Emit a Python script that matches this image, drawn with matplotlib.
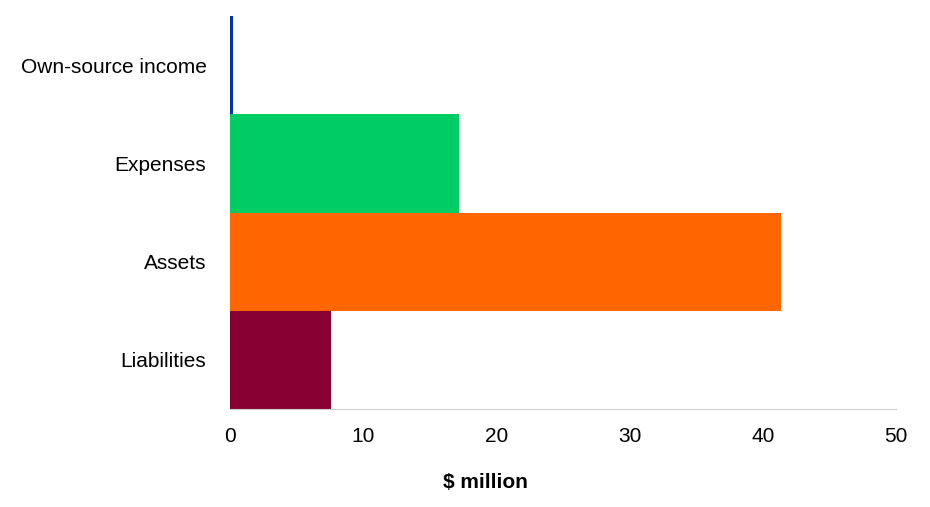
import matplotlib.pyplot as plt

plt.rcParams.update({'font.family': ['Liberation Sans', 'DejaVu Sans'], 'font.size': 15})

# Kategorien und Werte ($ million)
categories = ['Own-source income', 'Expenses', 'Assets', 'Liabilities']
values = [0.2, 17.2, 41.4, 7.6]
colours = ['#0033aa', '#00cc66', '#ff6600', '#880033']
x_ticks = [0, 10, 20, 30, 40, 50]

fig = plt.figure(figsize=(9.3, 5.07), dpi=100)
ax = fig.add_axes([230 / 930, 1 - 409 / 507, 666 / 930, 393 / 507])

ypos = list(range(len(categories)))
ax.barh(ypos, values, height=1.0, color=colours)
ax.set_ylim(len(categories) - 0.5, -0.5)
ax.set_xlim(0, 50)

ax.set_yticks(ypos)
ax.set_yticklabels(categories)
ax.set_xticks(x_ticks)
ax.tick_params(axis='both', length=0, labelsize=15)
ax.tick_params(axis='x', pad=13)
ax.tick_params(axis='y', pad=17)

for side in ['top', 'right', 'left']:
    ax.spines[side].set_visible(False)
ax.spines['bottom'].set_color('#cccccc')

# Achsenbeschriftung
ax.set_xlabel('$ million', fontweight='bold', va='center')
ax.xaxis.set_label_coords(255 / 666, -74 / 393)

fig.savefig('out.png', dpi=100)
